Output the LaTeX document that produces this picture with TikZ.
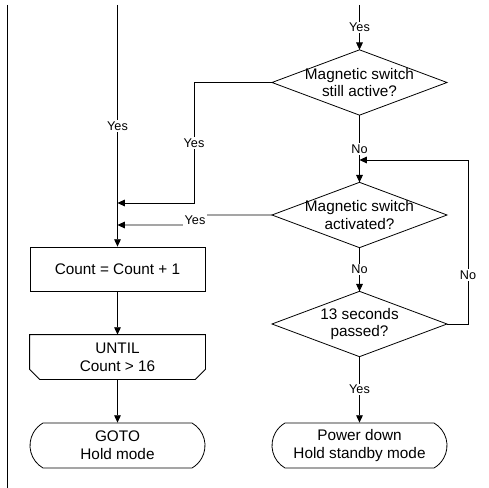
\documentclass[tikz,border=0pt]{standalone}
\usepackage{fontspec}
\setmainfont{Liberation Sans}
\usetikzlibrary{shapes.geometric,shapes.misc,arrows.meta}
\tikzset{
  every picture/.style={line width=0.6pt},
  arr/.style={-{Triangle[length=5.5pt,width=5pt]}},
  txt/.style={font=\fontsize{11.5}{13.3}\selectfont, align=center, inner sep=0pt},
  lbl/.style={font=\fontsize{9.5}{11}\selectfont, fill=white, inner sep=1pt},
  procbox/.style={draw, rectangle, minimum width=131.25pt, minimum height=33pt, txt},
  loopbox/.style={rectangle, minimum width=131.25pt, minimum height=33pt, txt},
  termbox/.style={draw, rounded rectangle, rounded rectangle arc length=120, minimum width=131.25pt, minimum height=33.75pt, txt},
  decbox/.style={draw, diamond, minimum width=131.25pt, minimum height=49pt, inner sep=0pt, outer sep=0pt},
}
\begin{document}
\begin{tikzpicture}[x=0.75pt,y=-0.75pt]
\useasboundingbox (0,0) rectangle (489,488);
% left border line
\draw (7,5) -- (7,488);
% right column
\coordinate (rtop) at (359.5,5);
\node[decbox] (d1) at (359.5,82.5) {};
\node[txt] (d1t) at (d1) {Magnetic switch\\still active?};
\node[decbox] (d2) at (359.5,215) {};
\node[txt] (d2t) at (d2) {Magnetic switch\\activated?};
\node[decbox] (d3) at (359.5,324) {};
\node[txt] (d3t) at (d3) {13 seconds\\passed?};
\node[termbox] (pd) at (359.5,445.5) {Power down\\Hold standby mode};
\coordinate (j1) at (359.5,160);
\coordinate (c1) at (468,324);
\coordinate (c2) at (468,160);
% left column
\coordinate (ltop) at (117.5,5);
\node[procbox] (cnt) at (117.5,269) {Count = Count + 1};
\node[loopbox] (until) at (117.5,357) {UNTIL\\Count > 16};
\draw (until.north west) -- (until.north east) -- ([yshift=7.5pt]until.south east)
  -- ([xshift=-7.5pt]until.south east) -- ([xshift=7.5pt]until.south west)
  -- ([yshift=7.5pt]until.south west) -- cycle;
\node[termbox] (goto) at (117.5,445.5) {GOTO\\Hold mode};
\coordinate (j2) at (117.5,203);
\coordinate (j3) at (117.5,225);
\coordinate (e1) at (194,82.5);
\coordinate (e2) at (194,203);
% connectors right
\draw[arr] (rtop) -- node[lbl] (l1) {Yes} (d1.north);
\draw[arr] (d1.south) -- node[lbl] (l2) {No} (d2.north);
\draw[arr] (d2.south) -- node[lbl] (l3) {No} (d3.north);
\draw[arr] (d3.south) -- node[lbl] (l4) {Yes} (pd.north);
\draw[arr] (d3.east) -- (c1) -- node[lbl, pos=0.3] (l5) {No} (c2) -- (j1);
% connectors left
\draw[arr] (ltop) -- node[lbl] (l6) {Yes} (cnt.north);
\draw[arr] (d1.west) -- (e1) -- node[lbl] (l7) {Yes} (e2) -- (j2);
\draw[arr] (d2.west) -- (207,215) -- (183,225) -- (j3);
\node[lbl] (l8) at (195,220) {Yes};
\draw[arr] (cnt.south) -- (until.north);
\draw[arr] (until.south) -- (goto.north);
\end{tikzpicture}
\end{document}
